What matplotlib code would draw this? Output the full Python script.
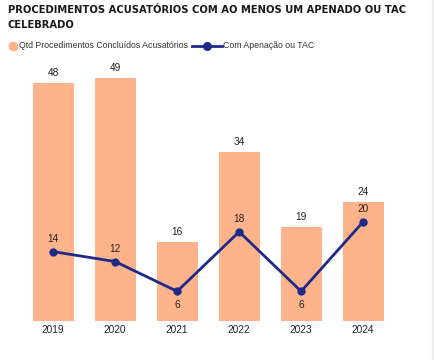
import matplotlib.pyplot as plt
from matplotlib.lines import Line2D
from matplotlib.patches import Rectangle

plt.rcParams['font.family'] = ['Liberation Sans', 'DejaVu Sans']

anos = ['2019', '2020', '2021', '2022', '2023', '2024']
concluidos = [48, 49, 16, 34, 19, 24]
apenacao = [14, 12, 6, 18, 6, 20]

cor_barra = '#FFB38A'
cor_linha = '#1E2A8A'

fig = plt.figure(figsize=(4.35, 3.6), dpi=100)
ax = fig.add_axes([0.051, 0.108, 0.855, 0.717])

x = list(range(len(anos)))
ax.bar(x, concluidos, width=0.66, color=cor_barra, zorder=1)
ax.plot(x, apenacao, color=cor_linha, lw=2, marker='o', ms=5, zorder=3)

for i, v in enumerate(concluidos):
    ax.annotate(str(v), (i, v), xytext=(0, 3.5), textcoords='offset points',
                ha='center', va='bottom', fontsize=7.3, color='#222222')

for i, v in enumerate(apenacao):
    if i > 0 and i < len(apenacao) - 1 and v < apenacao[i - 1] and v < apenacao[i + 1]:
        ax.annotate(str(v), (i, v), xytext=(0, -6.5), textcoords='offset points',
                    ha='center', va='top', fontsize=7.3, color='#222222')
    else:
        ax.annotate(str(v), (i, v), xytext=(0, 5.5), textcoords='offset points',
                    ha='center', va='bottom', fontsize=7.3, color='#222222')

ax.set_xlim(-0.5, 5.5)
ax.set_ylim(0, 52)
ax.set_xticks(x)
ax.set_xticklabels(anos, fontsize=7.3, color='#222222')
ax.tick_params(axis='x', length=0, pad=3)
ax.set_yticks([])
for s in ax.spines.values():
    s.set_visible(False)

fig.text(0.018, 0.985, 'PROCEDIMENTOS ACUSATÓRIOS COM AO MENOS UM APENADO OU TAC\nCELEBRADO',
         fontsize=7.2, fontweight='heavy', family='DejaVu Sans', color='#1a1a1a',
         va='top', ha='left', linespacing=1.55)

# legenda manual
ly = 1 - 46 / 360
fig.add_artist(Line2D([13 / 435], [ly], ls='none', marker='o', ms=6, color=cor_barra,
                      transform=fig.transFigure))
fig.text(19 / 435, ly, 'Qtd Procedimentos Concluídos Acusatórios', fontsize=6.3,
         color='#333333', va='center', ha='left')
fig.add_artist(Line2D([192 / 435, 222 / 435], [ly, ly], color=cor_linha, lw=2,
                      transform=fig.transFigure))
fig.add_artist(Line2D([207 / 435], [ly], ls='none', marker='o', ms=5.5, color=cor_linha,
                      transform=fig.transFigure))
fig.text(223 / 435, ly, 'Com Apenação ou TAC', fontsize=6.3,
         color='#333333', va='center', ha='left')

fig.patches.append(Rectangle((0.993, 0), 0.007, 1, transform=fig.transFigure,
                             color='#eeeeee', zorder=0))

fig.savefig('out.png', dpi=100)
